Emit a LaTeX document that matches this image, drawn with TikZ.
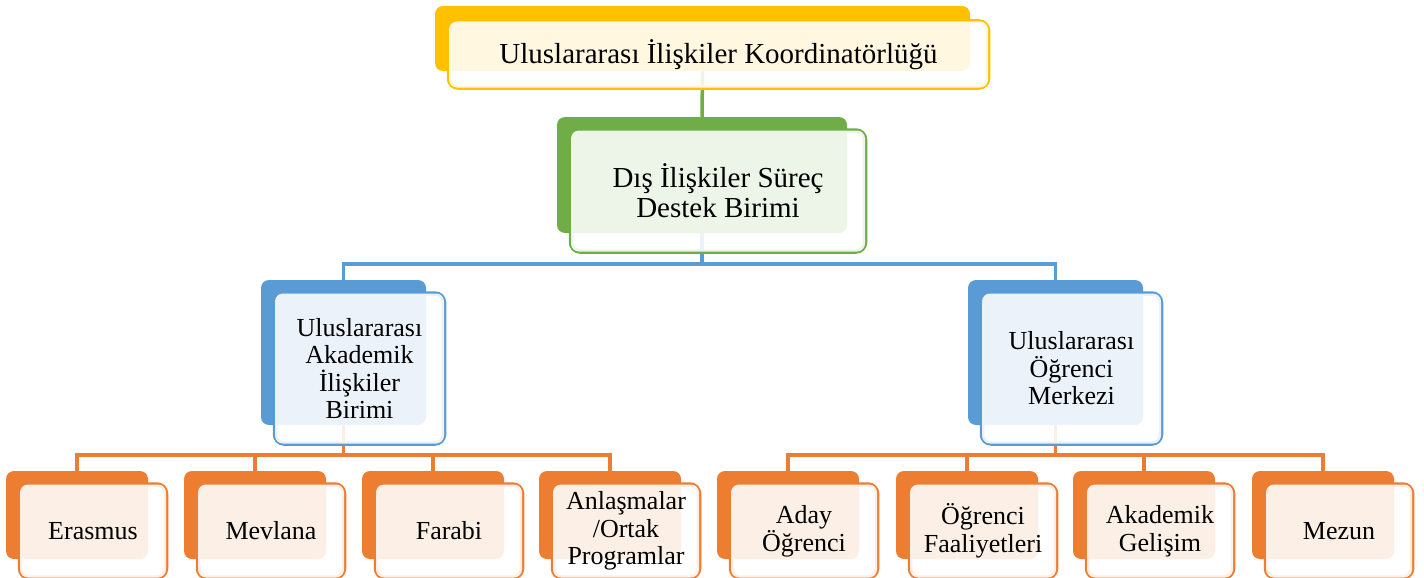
\documentclass[tikz,border=0pt]{standalone}
\usepackage{fontspec}
\setmainfont{Liberation Serif}
\definecolor{cY}{HTML}{FFC000}
\definecolor{cG}{HTML}{70AD47}
\definecolor{cB}{HTML}{5B9BD5}
\definecolor{cO}{HTML}{ED7D31}
\tikzset{
  slot/.style={shape=rectangle, inner sep=0pt, outer sep=0pt, draw=none},
  link/.style={draw=#1, line width=3.5pt},
  bigtxt/.style={font=\fontsize{29}{30}\selectfont},
  smalltxt/.style={font=\fontsize{26}{27.6}\selectfont},
  labeltext/.style={align=center, text=black, inner sep=0pt},
}
% place the two (invisible) boxes of one unit: #1 name, #2 cx, #3 cy, #4 w, #5 h, #6 extra front h
\newcommand\placeunit[6]{%
  \node[slot, minimum width={(#4)*1pt}, minimum height={(#5)*1pt}] (#1) at (#2,#3) {};
  \node[slot, minimum width={(#4+4)*1pt}, minimum height={(#5+#6)*1pt}] (#1-f) at ({#2+16},{#3+16}) {};
}
% paint one unit: #1 name, #2 colour, #3 text style, #4 text
\newcommand\paintunit[4]{%
  \draw[#2, line width=4.5pt, rounded corners=9pt] (#1-f.north west) rectangle (#1-f.south east);
  \fill[#2, rounded corners=8pt] (#1.north west) rectangle (#1.south east);
  \fill[white, fill opacity=0.88, rounded corners=8pt] (#1-f.north west) rectangle (#1-f.south east);
  \node[labeltext, #3] (#1-t) at (#1-f.center) {#4};
}
\begin{document}
\begin{tikzpicture}[x=1pt,y=-1pt]
\useasboundingbox (0,0) rectangle (1424,578);
\placeunit{top}{702.5}{38.5}{535}{65}{1}
\placeunit{green}{702}{175}{290}{116}{5}
\placeunit{bl}{343.5}{352.5}{165}{145}{5}
\placeunit{br}{1055.5}{352.5}{175}{145}{5}
\placeunit{o1}{77}{515}{142}{88}{5}
\placeunit{o2}{255}{515}{142}{88}{5}
\placeunit{o3}{433}{515}{142}{88}{5}
\placeunit{o4}{610}{515}{142}{88}{5}
\placeunit{o5}{788}{515}{142}{88}{5}
\placeunit{o6}{967}{515}{142}{88}{5}
\placeunit{o7}{1144}{515}{142}{88}{5}
\placeunit{o8}{1323}{515}{142}{88}{5}
\coordinate (busB) at (0,264);
\coordinate (busL) at (0,455);
% connectors (behind the boxes)
\draw[link=cG] (top.south) -- (green.north);
\draw[link=cB] (green.south) -- (green.south |- busB);
\draw[link=cB] (bl.north) -- (bl.north |- busB) -| (br.north);
\draw[link=cO] (bl.south) -- (bl.south |- busL);
\draw[link=cO] (o1.north) -- (o1.north |- busL) -| (o4.north);
\draw[link=cO] (o2.north) -- (o2.north |- busL);
\draw[link=cO] (o3.north) -- (o3.north |- busL);
\draw[link=cO] (br.south) -- (br.south |- busL);
\draw[link=cO] (o5.north) -- (o5.north |- busL) -| (o8.north);
\draw[link=cO] (o6.north) -- (o6.north |- busL);
\draw[link=cO] (o7.north) -- (o7.north |- busL);
% boxes
\paintunit{top}{cY}{bigtxt}{Uluslararası İlişkiler Koordinatörlüğü}
\paintunit{green}{cG}{bigtxt}{Dış İlişkiler Süreç\\Destek Birimi}
\paintunit{bl}{cB}{smalltxt}{Uluslararası\\Akademik\\İlişkiler\\Birimi}
\paintunit{br}{cB}{smalltxt}{Uluslararası\\Öğrenci\\Merkezi}
\paintunit{o1}{cO}{smalltxt}{Erasmus}
\paintunit{o2}{cO}{smalltxt}{Mevlana}
\paintunit{o3}{cO}{smalltxt}{Farabi}
\paintunit{o4}{cO}{smalltxt}{Anlaşmalar\\/Ortak\\Programlar}
\paintunit{o5}{cO}{smalltxt}{Aday\\Öğrenci}
\paintunit{o6}{cO}{smalltxt}{Öğrenci\\Faaliyetleri}
\paintunit{o7}{cO}{smalltxt}{Akademik\\Gelişim}
\paintunit{o8}{cO}{smalltxt}{Mezun}
\end{tikzpicture}
\end{document}
